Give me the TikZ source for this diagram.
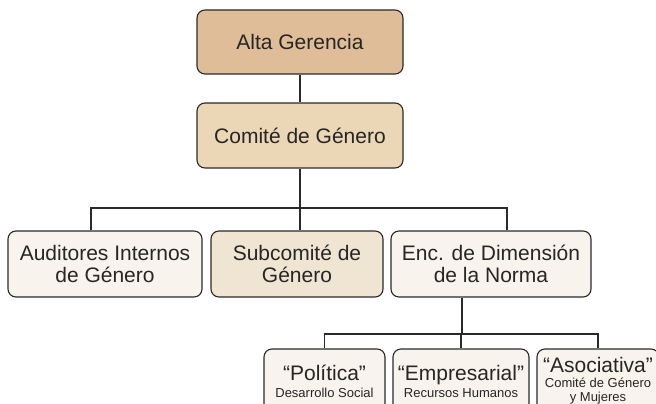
\documentclass[tikz,border=0pt]{standalone}
\usepackage{fontspec}
\setmainfont{Liberation Sans}
\definecolor{cAlta}{HTML}{DFBD98}
\definecolor{cComite}{HTML}{EBD6B5}
\definecolor{cSub}{HTML}{F0E4D2}
\definecolor{cLight}{HTML}{F8F3EC}
\definecolor{cLine}{HTML}{2A2A2A}
\newcommand{\subfont}{\fontsize{13}{14}\selectfont}
\begin{document}
\begin{tikzpicture}[x=1pt,y=-1pt,
  box/.style={draw=cLine, line width=1.1pt, rounded corners=8pt, align=center, inner sep=0pt,
    text=black!85, font=\fontsize{21}{22}\selectfont},
  conn/.style={draw=cLine, line width=1.1pt}]
\clip (0,0) rectangle (656,404);
\fill[white] (0,0) rectangle (656,404);
\node[box, fill=cAlta, minimum width=206pt, minimum height=64pt] (alta) at (300,42) {Alta Gerencia};
\node[box, fill=cComite, minimum width=206pt, minimum height=65pt] (comite) at (300,135.5) {Comité de Género};
\node[box, fill=cLight, minimum width=194pt, minimum height=66pt] (aud) at (105,264) {Auditores Internos\\de Género};
\node[box, fill=cSub, minimum width=172pt, minimum height=66pt] (sub) at (297,264) {Subcomité de\\Género};
\node[box, fill=cLight, minimum width=200pt, minimum height=66pt] (enc) at (491,264) {Enc. de Dimensión\\de la Norma};
\node[box, fill=cLight, minimum width=121pt, minimum height=64pt] (pol) at (324.5,381) {“Política”\\[-5pt]\subfont Desarrollo Social};
\node[box, fill=cLight, minimum width=136pt, minimum height=64pt] (emp) at (461,381) {“Empresarial”\\[-5pt]\subfont Recursos Humanos};
\node[box, fill=cLight, minimum width=122pt, minimum height=64pt] (aso) at (598,381) {“Asociativa”\\[-7pt]\subfont Comité de Género\\[-8pt]\subfont y Mujeres};
\coordinate (bus) at (300,208);
\coordinate (bus2) at (462,334);
\draw[conn] (alta.south) -- (comite.north);
\draw[conn] (comite.south) -- (bus);
\draw[conn] ([xshift=-14pt]aud.north) |- (bus) -| ([xshift=16pt]enc.north);
\draw[conn] ([xshift=3pt]sub.north) -- ([xshift=3pt]sub.north |- bus);
\draw[conn] ([xshift=-29pt]enc.south) -- (bus2);
\draw[conn] (pol.north) |- (bus2) -| (aso.north);
\draw[conn] (emp.north) -- (emp.north |- bus2);
\end{tikzpicture}
\end{document}
